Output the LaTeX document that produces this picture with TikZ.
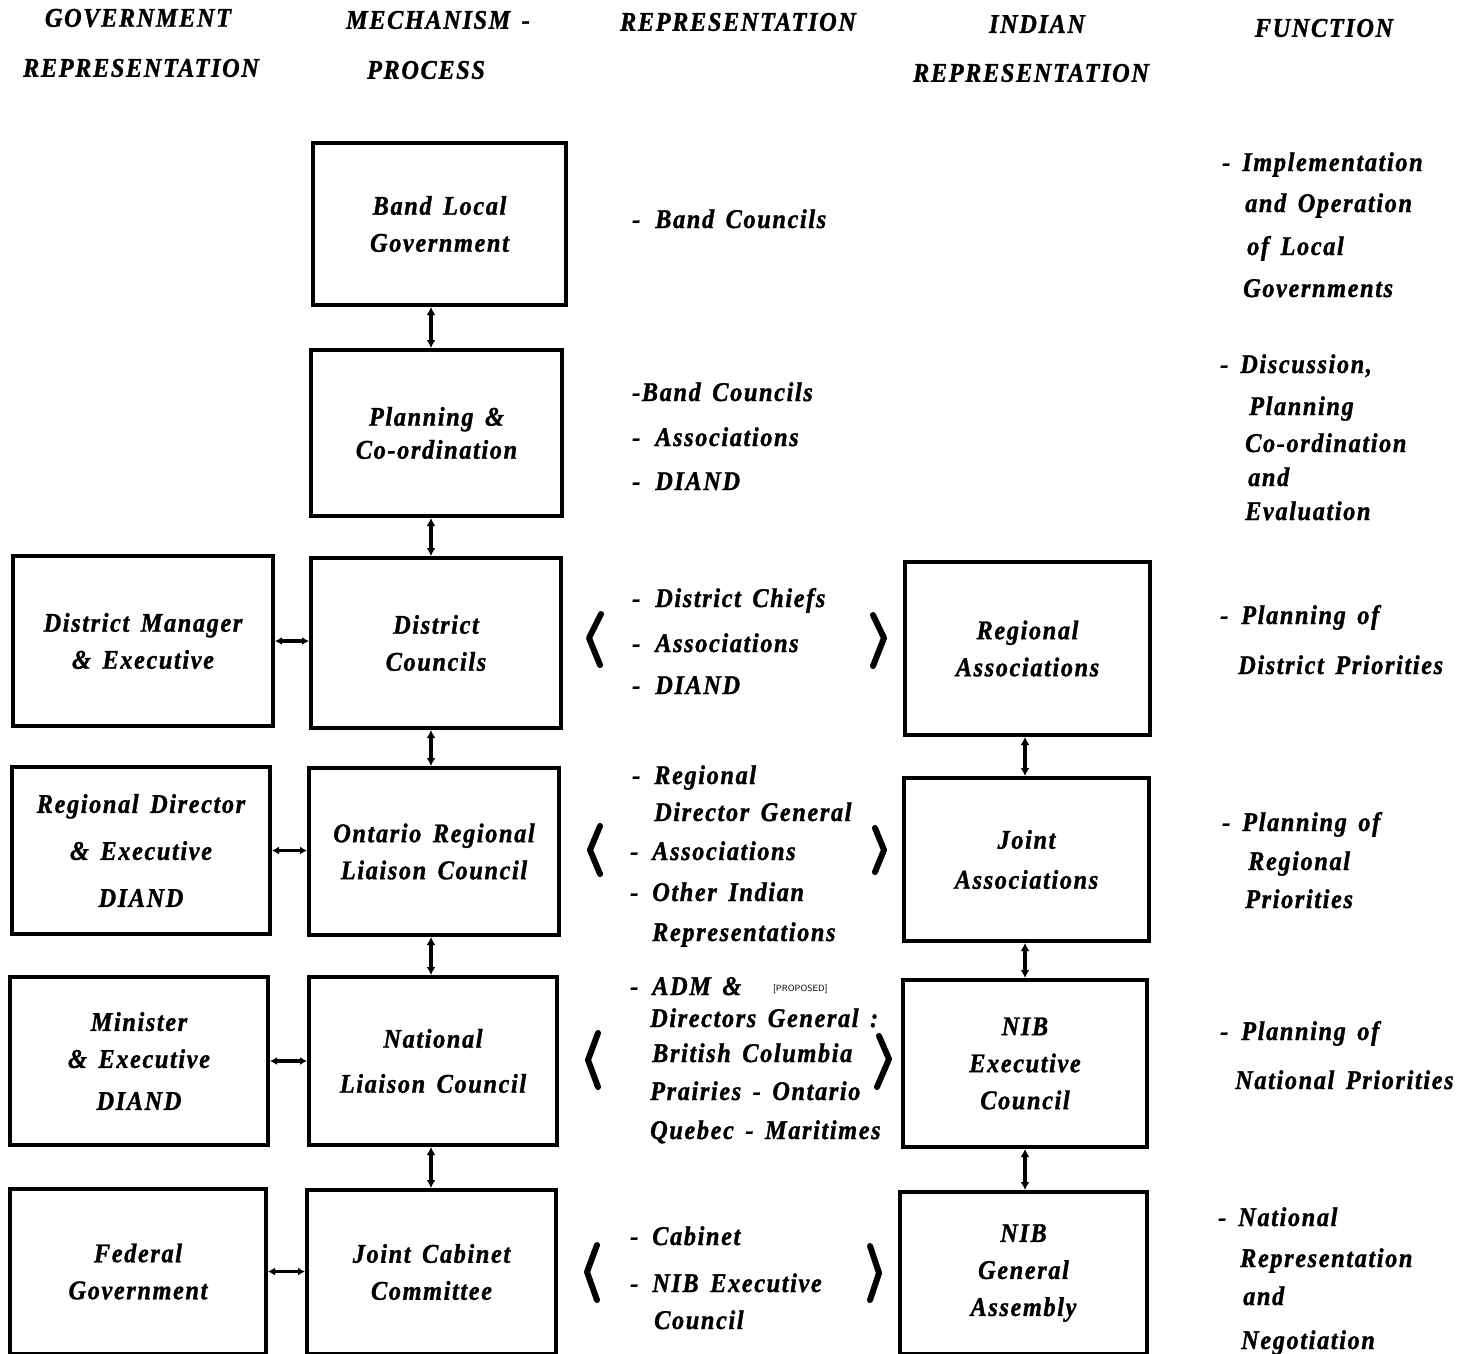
\documentclass[tikz,border=0pt]{standalone}
\usepackage{fontspec}
\setmainfont{Liberation Serif}[LetterSpace=6, WordSpace=1.5, FakeStretch=0.9, BoldItalicFeatures={FakeBold=1.2}]
\usetikzlibrary{arrows.meta}
\newcommand\tline[4]{\node[txt] (#1) at (#2,#3) {#4};}
\begin{document}
\begin{tikzpicture}[x=1pt,y=-1pt,
  bfont/.style={font=\fontsize{27}{37}\selectfont\bfseries\itshape},
  box/.style={bfont, draw, line width=4pt, align=center, inner sep=0pt},
  txt/.style={bfont, anchor=base west, inner sep=0pt},
  hdr/.style={bfont, anchor=center, inner sep=0pt},
  dbl/.style={line width=4.5pt, {Latex[length=8pt,width=9pt]}-{Latex[length=8pt,width=9pt]}},
  hdbl/.style={line width=3.5pt, {Latex[length=7pt,width=8pt]}-{Latex[length=7pt,width=8pt]}},
  brk/.style={line width=6pt, line join=round, line cap=round}]
\useasboundingbox (0,0) rectangle (1467,1354);

% headers
\node[hdr] (h1a) at (138,18) {GOVERNMENT};
\node[hdr] (h1b) at (141,68) {REPRESENTATION};
\node[hdr] (h2a) at (438,20) {MECHANISM -};
\node[hdr] (h2b) at (426,70) {PROCESS};
\node[hdr] (h3a) at (738,22) {REPRESENTATION};
\node[hdr] (h4a) at (1037,24) {INDIAN};
\node[hdr] (h4b) at (1031,73) {REPRESENTATION};
\node[hdr] (h5a) at (1324,28) {FUNCTION};

% mechanism column
\node[box, minimum width=253pt, minimum height=162pt] (band) at (439.5,224) {Band Local\\Government};
\node[box, minimum width=251pt, minimum height=166pt] (plan) at (436.5,433) {Planning \&\\[-4pt]Co-ordination};
\node[box, minimum width=250pt, minimum height=170pt] (dist) at (436,643) {District\\Councils};
\node[box, minimum width=250pt, minimum height=167pt] (ont) at (434,851.5) {Ontario Regional\\Liaison Council};
\node[box, minimum width=248pt, minimum height=168pt] (nat) at (433,1061) {National\\[8pt]Liaison Council};
\node[box, minimum width=249pt, minimum height=164pt] (jcc) at (431.5,1272) {Joint Cabinet\\Committee};

% government column
\node[box, minimum width=260pt, minimum height=170pt] (dm) at (143,641) {District Manager\\\& Executive};
\node[box, minimum width=258pt, minimum height=167pt] (rd) at (141,850.5) {Regional Director\\[10pt]\& Executive\\[10pt]DIAND};
\node[box, minimum width=258pt, minimum height=168pt] (min) at (139,1061) {Minister\\\& Executive\\[5pt]DIAND};
\node[box, minimum width=256pt, minimum height=165pt] (fed) at (138,1271.5) {Federal\\Government};

% indian column
\node[box, minimum width=245pt, minimum height=173pt] (rass) at (1027.5,648.5) {Regional\\Associations};
\node[box, minimum width=245pt, minimum height=163pt] (jass) at (1026.5,859.5) {Joint\\[3pt]Associations};
\node[box, minimum width=244pt, minimum height=167pt] (nibe) at (1025,1063.5) {NIB\\Executive\\Council};
\node[box, minimum width=247pt, minimum height=162pt] (nibg) at (1023.5,1273) {NIB\\General\\Assembly};

% connectors
\coordinate (cx2) at (431,0);
\coordinate (cx4) at (1025,0);
\draw[dbl] (cx2 |- band.south) -- (cx2 |- plan.north);
\draw[dbl] (cx2 |- plan.south) -- (cx2 |- dist.north);
\draw[dbl] (cx2 |- dist.south) -- (cx2 |- ont.north);
\draw[dbl] (cx2 |- ont.south) -- (cx2 |- nat.north);
\draw[dbl] (cx2 |- nat.south) -- (cx2 |- jcc.north);
\draw[dbl] (cx4 |- rass.south) -- (cx4 |- jass.north);
\draw[dbl] (cx4 |- jass.south) -- (cx4 |- nibe.north);
\draw[dbl] (cx4 |- nibe.south) -- (cx4 |- nibg.north);
\draw[hdbl] (dm.east) -- (dm.east -| dist.west);
\draw[hdbl] (rd.east) -- (rd.east -| ont.west);
\draw[hdbl] (min.east) -- (min.east -| nat.west);
\draw[hdbl] (fed.east) -- (fed.east -| jcc.west);

% brackets
\draw[brk] (601,614) -- (589,638) -- (600,665);
\draw[brk] (873,615) -- (884,638) -- (873,666);
\draw[brk] (600,826) -- (590,850) -- (600,874);
\draw[brk] (875,828) -- (884,850) -- (875,872);
\draw[brk] (598,1033) -- (588,1060) -- (598,1087);
\draw[brk] (879,1036) -- (889,1059) -- (877,1087);
\draw[brk] (597,1245) -- (587,1272) -- (597,1300);
\draw[brk] (870,1246) -- (879,1273) -- (870,1300);

% representation column
\tline{r1a}{632}{228}{-\hspace{15pt}Band Councils}
\tline{r2a}{632}{401}{-Band Councils}
\tline{r2b}{632}{446}{-\hspace{15pt}Associations}
\tline{r2c}{632}{490}{-\hspace{15pt}DIAND}
\tline{r3a}{632}{607}{-\hspace{15pt}District Chiefs}
\tline{r3b}{632}{652}{-\hspace{15pt}Associations}
\tline{r3c}{632}{694}{-\hspace{15pt}DIAND}
\tline{r4a}{632}{784}{-\hspace{14pt}Regional}
\tline{r4b}{654}{821}{Director General}
\tline{r4c}{630}{860}{-\hspace{14pt}Associations}
\tline{r4d}{630}{901}{-\hspace{14pt}Other Indian}
\tline{r4e}{652}{941}{Representations}
\tline{r5a}{630}{995}{-\hspace{14pt}ADM \&}
\node[anchor=base west, inner sep=0pt, font=\sffamily\fontsize{9}{10}\selectfont] (r5p) at (773,991) {[PROPOSED]};
\tline{r5b}{650}{1027}{Directors General :}
\tline{r5c}{652}{1062}{British Columbia}
\tline{r5d}{650}{1100}{Prairies - Ontario}
\tline{r5e}{650}{1139}{Quebec - Maritimes}
\tline{r6a}{630}{1245}{-\hspace{14pt}Cabinet}
\tline{r6b}{630}{1292}{-\hspace{14pt}NIB Executive}
\tline{r6c}{654}{1329}{Council}

% function column
\tline{f1a}{1222}{171}{-\hspace{12pt}Implementation}
\tline{f1b}{1245}{212}{and Operation}
\tline{f1c}{1247}{255}{of Local}
\tline{f1d}{1243}{297}{Governments}
\tline{f2a}{1220}{373}{-\hspace{12pt}Discussion,}
\tline{f2b}{1249}{415}{Planning}
\tline{f2c}{1245}{452}{Co-ordination}
\tline{f2d}{1248}{486}{and}
\tline{f2e}{1245}{520}{Evaluation}
\tline{f3a}{1220}{624}{-\hspace{13pt}Planning of}
\tline{f3b}{1238}{674}{District Priorities}
\tline{f4a}{1222}{831}{-\hspace{12pt}Planning of}
\tline{f4b}{1248}{870}{Regional}
\tline{f4c}{1245}{908}{Priorities}
\tline{f5a}{1220}{1040}{-\hspace{13pt}Planning of}
\tline{f5b}{1235}{1089}{National Priorities}
\tline{f6a}{1218}{1226}{-\hspace{12pt}National}
\tline{f6b}{1240}{1267}{Representation}
\tline{f6c}{1243}{1305}{and}
\tline{f6d}{1241}{1349}{Negotiation}
\end{tikzpicture}
\end{document}
